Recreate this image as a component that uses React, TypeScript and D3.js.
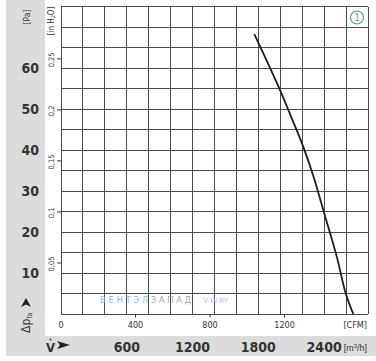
import React from 'react';
import * as d3 from 'd3';

// fan curve
const flowM3h = [1763, 1880, 1997, 2104, 2210, 2305, 2392, 2515, 2597, 2666];
const pressurePa = [68.3, 61.6, 54.7, 47.8, 40.8, 33.4, 25.4, 14.0, 5.0, 0];

const paTicks = [10, 20, 30, 40, 50, 60];
const inH2OTicks = [0.05, 0.1, 0.15, 0.2, 0.25];
const inH2OLabels = ['0,05', '0,1', '0,15', '0,2', '0,25'];
const cfmTicks = [0, 400, 800, 1200];
const m3hTicks = [600, 1200, 1800, 2400];

const W = 376;
const H = 361;
const PA_PER_INH2O = 249.09;
const M3H_PER_CFM = 1.699;
const FONT = '"DejaVu Sans Condensed", "DejaVu Sans", sans-serif';
const FONT_N = '"Liberation Sans", Arial, sans-serif';

const App: React.FC = () => {
  const x = d3.scaleLinear().domain([0, 2800]).range([61, 368]);
  const y = d3.scaleLinear().domain([0, 75]).range([314, 6.7]);

  const line = d3.line<number>()
    .x((_, i) => x(flowM3h[i]))
    .y(d => y(d))
    .curve(d3.curveCatmullRom.alpha(0.5));

  const vLines = d3.range(0, 2801, 200);
  const hLines = d3.range(0, 76, 5);
  const grey = '#dcdcdc';

  return (
    <svg width={W} height={H} style={{ position: 'fixed', left: 0, top: 0, background: '#fff' }}>
      {/* grey frame */}
      <rect x={6} y={0} width={39} height={336} fill={grey} />
      <rect x={6} y={336} width={W - 6} height={20} fill={grey} />

      {/* grid */}
      <g stroke="#4a4a4a" strokeWidth={1} shapeRendering="crispEdges">
        {vLines.map(v => (
          <line key={'v' + v} x1={x(v)} x2={x(v)} y1={y(75)} y2={y(0)} />
        ))}
        {hLines.map(v => (
          <line key={'h' + v} x1={x(0)} x2={x(2800)} y1={y(v)} y2={y(v)} />
        ))}
      </g>

      {/* watermark */}
      <text x={100} y={303} fontFamily="DejaVu Sans, sans-serif" fontSize={8.5} letterSpacing={2.6}>
        <tspan fill="#8cbbe0">ВЕНТЭЛ</tspan>
        <tspan fill="#a8a8a8">ЗАПАД</tspan>
      </text>
      <text x={203} y={303} fontFamily="DejaVu Sans, sans-serif" fontSize={7.5} fill="#b8c8d8">V-W.BY</text>

      {/* curve */}
      <path d={line(pressurePa) || ''} fill="none" stroke="#1e1e1e" strokeWidth={1.8} />

      {/* curve number */}
      <circle cx={357} cy={17.5} r={6.5} fill="#fff" stroke="#4a9e9e" strokeWidth={1.2} />
      <text x={357} y={21} textAnchor="middle" fontFamily={FONT} fontSize={10} fill="#8a9a5b">1</text>

      {/* Pa labels */}
      {paTicks.map(v => (
        <text key={'pa' + v} x={39} y={y(v) + 5} textAnchor="end" fontFamily={FONT}
          fontSize={14} fontWeight={600} fill="#333">{v}</text>
      ))}
      <text transform="translate(30,17) rotate(-90)" textAnchor="middle" fontFamily={FONT}
        fontSize={8.5} fill="#333">[Pa]</text>

      {/* inH2O ticks and labels */}
      {inH2OTicks.map((v, i) => {
        const py = y(v * PA_PER_INH2O);
        return (
          <g key={'in' + v}>
            <line x1={57} x2={61} y1={py} y2={py} stroke="#333" strokeWidth={1} />
            <text transform={`translate(53.5,${py + 1}) rotate(-90)`} textAnchor="middle"
              fontFamily={FONT} fontSize={7.5} fill="#333">{inH2OLabels[i]}</text>
          </g>
        );
      })}
      <text transform="translate(53.5,21) rotate(-90)" textAnchor="middle" fontFamily={FONT}
        fontSize={8} fill="#333">
        [in H<tspan fontSize={5.5} dy={1.5}>2</tspan><tspan dy={-1.5}>O]</tspan>
      </text>

      {/* Δp_fa */}
      <path d="M26,298 L31,307 L26,304.5 L21,307 Z" fill="#222" />
      <text transform="translate(30,333) rotate(-90)" fontFamily={FONT} fontSize={12} fill="#333">
        Δp<tspan fontSize={7} dy={1.5}>fa</tspan>
      </text>

      {/* CFM axis */}
      {cfmTicks.map(v => {
        const px = x(v * M3H_PER_CFM);
        return (
          <g key={'cfm' + v}>
            {v > 0 && <line x1={px} x2={px} y1={314} y2={317.5} stroke="#333" strokeWidth={1} />}
            <text x={px} y={327.5} textAnchor="middle" fontFamily={FONT} fontSize={9} fill="#333">{v}</text>
          </g>
        );
      })}
      <text x={367} y={328} textAnchor="end" fontFamily={FONT} fontSize={9} fill="#333">[CFM]</text>

      {/* m3/h axis */}
      <text x={46} y={351.5} fontFamily={FONT} fontSize={13} fontWeight={600} fill="#333">V</text>
      <circle cx={50.5} cy={339.5} r={0.9} fill="#333" />
      <path d="M57,341 L70,345 L57,349 L60,345 Z" fill="#222" />
      {m3hTicks.map(v => (
        <text key={'m' + v} x={x(v)} y={351.5} textAnchor="middle" fontFamily={FONT}
          fontSize={14} fontWeight={600} fill="#333">{v}</text>
      ))}
      <text x={367} y={351} textAnchor="end" fontFamily={FONT_N} fontSize={9} fill="#333">
        [m<tspan fontSize={6} dy={-3}>3</tspan><tspan dy={3}>/h]</tspan>
      </text>
    </svg>
  );
};

export default App;
